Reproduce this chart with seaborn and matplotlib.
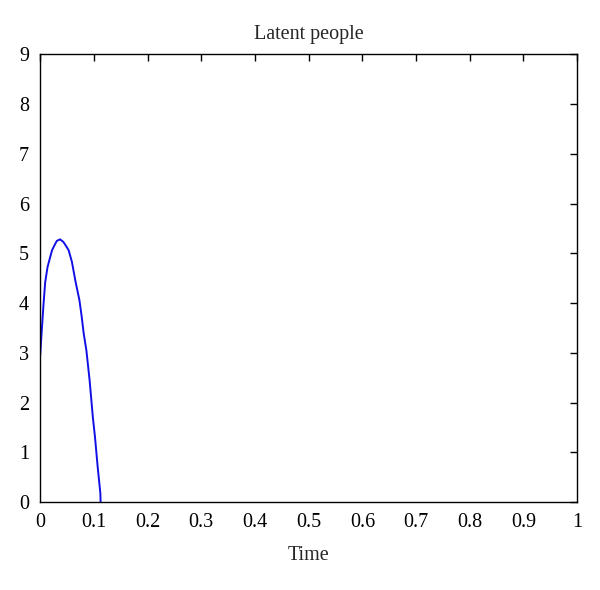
import matplotlib
matplotlib.use("Agg")
import matplotlib.pyplot as plt
import seaborn as sns
import pandas as pd

# values
time = [0.0, 0.002, 0.006, 0.0093, 0.0136, 0.018, 0.022, 0.027, 0.031, 0.037,
        0.043, 0.048, 0.053, 0.059, 0.066, 0.073, 0.077, 0.081, 0.086, 0.092,
        0.098, 0.102, 0.107, 0.112, 0.1125]
latent = [2.95, 3.3, 3.95, 4.42, 4.72, 4.9, 5.06, 5.17, 5.25, 5.28,
          5.23, 5.15, 5.06, 4.83, 4.42, 4.06, 3.75, 3.39, 3.05, 2.45,
          1.71, 1.31, 0.71, 0.18, 0.0]
xticks = [0, 0.1, 0.2, 0.3, 0.4, 0.5, 0.6, 0.7, 0.8, 0.9, 1]
xtick_labels = ["0", "0.1", "0.2", "0.3", "0.4", "0.5", "0.6", "0.7", "0.8", "0.9", "1"]
yticks = list(range(10))

df = pd.DataFrame({"Time": time, "Latent": latent})

sns.set_style("white")
plt.rcParams['font.family'] = ['Liberation Serif', 'DejaVu Serif']

fig = plt.figure(figsize=(6.0, 5.9), dpi=100)
ax = fig.add_axes([0.067, 0.149, 0.895, 0.759])

sns.lineplot(data=df, x="Time", y="Latent", ax=ax, color="#1010e6",
             linewidth=1.4, sort=False, estimator=None)

ax.set_xlim(0, 1)
ax.set_ylim(0, 9)
ax.set_xticks(xticks)
ax.set_xticklabels(xtick_labels)
ax.set_yticks(yticks)
ax.tick_params(direction="in", top=True, right=True, length=5, width=1,
               labelsize=14.5, colors="black", pad=8)
for s in ax.spines.values():
    s.set_color("black")
    s.set_linewidth(1)

ax.set_title("Latent people", fontsize=14.5, pad=11)
ax.set_xlabel("Time", fontsize=14.5, labelpad=10)
ax.set_ylabel("")

fig.savefig("out.png", dpi=100)
